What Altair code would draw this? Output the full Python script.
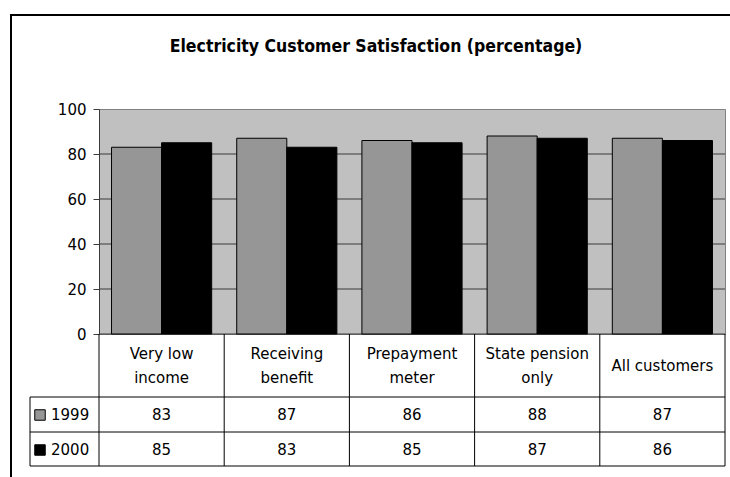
import altair as alt
import pandas as pd

# Survey categories and their two-line labels for the data table
categories = ["Very low income", "Receiving benefit", "Prepayment meter",
              "State pension only", "All customers"]
cell_labels = ["Very low\nincome", "Receiving\nbenefit", "Prepayment\nmeter",
               "State pension\nonly", "All customers"]
years = ["1999", "2000"]
values_1999 = [83, 87, 86, 88, 87]
values_2000 = [85, 83, 85, 87, 86]
grid_values = [0, 20, 40, 60, 80]

rows = []
for cat, v99, v00 in zip(categories, values_1999, values_2000):
    rows.append({"category": cat, "year": "1999", "value": v99})
    rows.append({"category": cat, "year": "2000", "value": v00})
df = pd.DataFrame(rows)
cats_df = pd.DataFrame({"category": categories, "label": cell_labels})
grid_df = pd.DataFrame({"v": grid_values})
one = pd.DataFrame({"k": [0]})

W, H = 626, 225
FONT = "DejaVu Sans"
TITLE_FONT = "DejaVu Sans Condensed"

x_scale = alt.Scale(domain=categories, paddingInner=0, paddingOuter=0)
y_scale = alt.Scale(domain=[0, 100])
color_scale = alt.Scale(domain=years, range=["#969696", "#000000"])

x_enc = alt.X("category:N", sort=categories, scale=x_scale, axis=None)
y_axis = alt.Axis(values=[0, 20, 40, 60, 80, 100], title=None, grid=False,
                  domainColor="#3a3a3a", tickColor="#3a3a3a", tickSize=6,
                  labelPadding=7, labelFontSize=15, labelFont=FONT,
                  labelColor="black")

# Horizontal gridlines inside the grey plot area
grid = alt.Chart(grid_df).mark_rule(color="#3a3a3a", strokeWidth=1).encode(
    y=alt.Y("v:Q", scale=y_scale, axis=y_axis)
)

bars = alt.Chart(df).mark_bar(stroke="black", strokeWidth=1).encode(
    x=x_enc,
    xOffset=alt.XOffset("year:N", sort=years,
                        scale=alt.Scale(paddingOuter=0.25, paddingInner=0)),
    y=alt.Y("value:Q", scale=y_scale, axis=y_axis),
    color=alt.Color("year:N", scale=color_scale, legend=None),
)

# Data table: vertical cell borders at each category boundary
vlines = alt.Chart(cats_df).mark_rule(color="black", strokeWidth=1).encode(
    x=alt.X("category:N", sort=categories, scale=x_scale, axis=None, bandPosition=0),
    y=alt.value(H), y2=alt.value(H + 132),
)
right_line = alt.Chart(one).mark_rule(color="black").encode(
    x=alt.value(W), y=alt.value(H), y2=alt.value(H + 132)
)
left_line = alt.Chart(one).mark_rule(color="black").encode(
    x=alt.value(-69), y=alt.value(H + 63), y2=alt.value(H + 132)
)
hlines = [
    alt.Chart(one).mark_rule(color="black").encode(
        x=alt.value(-69), x2=alt.value(W), y=alt.value(yy)
    )
    for yy in (H + 63, H + 98, H + 132)
]

# Category headings: two-line labels sit a half line higher than single-line ones
cat_text_two = alt.Chart(cats_df).transform_filter(
    "indexof(datum.label, '\\n') >= 0"
).mark_text(
    lineBreak="\n", fontSize=15, font=FONT, baseline="middle", lineHeight=24,
    color="black"
).encode(
    x=alt.X("category:N", sort=categories, scale=x_scale, axis=None),
    y=alt.value(H + 20),
    text="label:N",
)
cat_text_one = alt.Chart(cats_df).transform_filter(
    "indexof(datum.label, '\\n') < 0"
).mark_text(
    fontSize=15, font=FONT, baseline="middle", color="black"
).encode(
    x=alt.X("category:N", sort=categories, scale=x_scale, axis=None),
    y=alt.value(H + 32),
    text="label:N",
)

row_y = {"1999": H + 81, "2000": H + 116}
value_rows = []
legend_keys = []
for yr in years:
    value_rows.append(
        alt.Chart(df).transform_filter(alt.datum.year == yr).mark_text(
            fontSize=15, font=FONT, baseline="middle", color="black"
        ).encode(x=x_enc, y=alt.value(row_y[yr]), text="value:Q")
    )
    legend_keys.append(
        alt.Chart(df).transform_filter(
            (alt.datum.year == yr) & (alt.datum.category == categories[0])
        ).mark_square(size=110, stroke="black", strokeWidth=1, opacity=1).encode(
            x=alt.value(-59), y=alt.value(row_y[yr]),
            color=alt.Color("year:N", scale=color_scale, legend=None),
        )
    )
    legend_keys.append(
        alt.Chart(df).transform_filter(
            (alt.datum.year == yr) & (alt.datum.category == categories[0])
        ).mark_text(fontSize=15, font=FONT, align="left", baseline="middle",
                    color="black").encode(
            x=alt.value(-48), y=alt.value(row_y[yr]), text="year:N"
        )
    )

title = alt.Chart(one).mark_text(
    text="Electricity Customer Satisfaction (percentage)",
    font=TITLE_FONT, fontSize=17.5, fontWeight="bold", align="center",
    baseline="alphabetic", color="black"
).encode(x=alt.value(277), y=alt.value(-57))

frame = alt.Chart(one).mark_rect(
    fillOpacity=0, stroke="black", strokeWidth=2
).encode(x=alt.value(-88), y=alt.value(-94), x2=alt.value(700), y2=alt.value(420))

chart = alt.layer(
    grid, bars, vlines, right_line, left_line, *hlines, cat_text_two, cat_text_one,
    *value_rows, *legend_keys, title, frame
).properties(
    width=W, height=H,
    autosize=alt.AutoSizeParams(type="none"),
    padding={"left": 99, "top": 109, "right": 5, "bottom": 143},
    background="white",
).configure_view(
    fill="#c0c0c0", stroke="#808080", strokeWidth=1
)

chart.save("out.html", embed_options={"renderer": "svg", "actions": False})
